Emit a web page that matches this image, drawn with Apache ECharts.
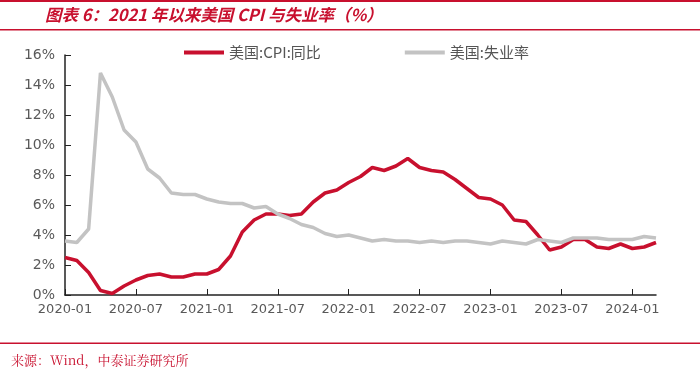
<!DOCTYPE html>
<html>
<head>
<meta charset="utf-8">
<script src="https://cdn.jsdelivr.net/npm/echarts@6/dist/echarts.min.js"></script>
<style>
  html, body { margin: 0; padding: 0; background: #fff; }
  #chart { width: 700px; height: 377px; }
</style>
</head>
<body>
<div id="chart"></div>
<script>
  // monthly, 2020-01 .. 2024-03
  var months = [];
  for (var y = 2020; y <= 2024; y++) {
    for (var m = 1; m <= 12; m++) {
      if (y === 2024 && m > 3) break;
      months.push(y + '-' + (m < 10 ? '0' + m : m));
    }
  }
  var cpiYoy = [
    2.5, 2.3, 1.5, 0.3, 0.1, 0.6, 1.0, 1.3, 1.4, 1.2, 1.2, 1.4,
    1.4, 1.7, 2.6, 4.2, 5.0, 5.4, 5.4, 5.3, 5.4, 6.2, 6.8, 7.0,
    7.5, 7.9, 8.5, 8.3, 8.6, 9.1, 8.5, 8.3, 8.2, 7.7, 7.1, 6.5,
    6.4, 6.0, 5.0, 4.9, 4.0, 3.0, 3.2, 3.7, 3.7, 3.2, 3.1, 3.4,
    3.1, 3.2, 3.5
  ]
  var unemployment = [
    3.6, 3.5, 4.4, 14.8, 13.2, 11.0, 10.2, 8.4, 7.8, 6.8, 6.7, 6.7,
    6.4, 6.2, 6.1, 6.1, 5.8, 5.9, 5.4, 5.1, 4.7, 4.5, 4.1, 3.9,
    4.0, 3.8, 3.6, 3.7, 3.6, 3.6, 3.5, 3.6, 3.5, 3.6, 3.6, 3.5,
    3.4, 3.6, 3.5, 3.4, 3.7, 3.6, 3.5, 3.8, 3.8, 3.8, 3.7, 3.7,
    3.7, 3.9, 3.8
  ]
  var seriesNames = ['美国:CPI:同比', '美国:失业率']

  var red = '#c8102e'
  var chart = echarts.init(document.getElementById('chart'))
  chart.setOption({
    backgroundColor: '#fff',
    animation: false,
    graphic: [
      { type: 'rect', shape: { x: 0, y: 0, width: 700, height: 2 }, style: { fill: red } },
      { type: 'rect', shape: { x: 0, y: 29, width: 700, height: 1.5 }, style: { fill: red } },
      { type: 'rect', shape: { x: 0, y: 342.5, width: 700, height: 1.5 }, style: { fill: red } },
      {
        type: 'text', left: 45, top: 6,
        style: {
          text: '图表 6：2021 年以来美国 CPI 与失业率（%）',
          fill: red,
          font: 'italic bold 16.5px "Noto Sans CJK SC", sans-serif'
        }
      },
      {
        type: 'text', left: 11, top: 354,
        style: {
          text: '来源：Wind，中泰证券研究所',
          fill: red,
          font: '13px "Noto Serif CJK SC", "Noto Sans CJK SC", serif'
        }
      }
    ],
    legend: {
      top: 40,
      left: 179,
      itemGap: 84,
      itemWidth: 40,
      itemHeight: 4,
      icon: 'rect',
      textStyle: { color: '#555', fontSize: 15, fontFamily: '"Noto Sans CJK SC", sans-serif' },
      data: seriesNames
    },
    grid: { left: 65, right: 44, top: 55, bottom: 82 },
    xAxis: {
      type: 'category',
      boundaryGap: false,
      data: months,
      axisLine: { lineStyle: { color: '#222', width: 1.5 } },
      axisTick: { inside: true, length: 6, interval: 5, lineStyle: { color: '#222' } },
      axisLabel: {
        interval: 5, color: '#595959', fontSize: 13, margin: 8,
        fontFamily: '"DejaVu Sans", sans-serif'
      }
    },
    yAxis: {
      type: 'value',
      min: 0, max: 16, interval: 2,
      axisLine: { show: true, lineStyle: { color: '#222', width: 1.5 } },
      axisTick: { show: true, inside: true, length: 6, lineStyle: { color: '#222' } },
      axisLabel: {
        formatter: '{value}%', color: '#595959', fontSize: 14, margin: 10,
        fontFamily: '"DejaVu Sans", sans-serif'
      },
      splitLine: { show: false }
    },
    series: [
      {
        name: seriesNames[0], type: 'line', data: cpiYoy,
        symbol: 'none', lineStyle: { width: 3.5, color: red }, itemStyle: { color: red }
      },
      {
        name: seriesNames[1], type: 'line', data: unemployment,
        symbol: 'none', lineStyle: { width: 3.5, color: '#c3c3c3' }, itemStyle: { color: '#c3c3c3' }
      }
    ]
  })
</script>
</body>
</html>
